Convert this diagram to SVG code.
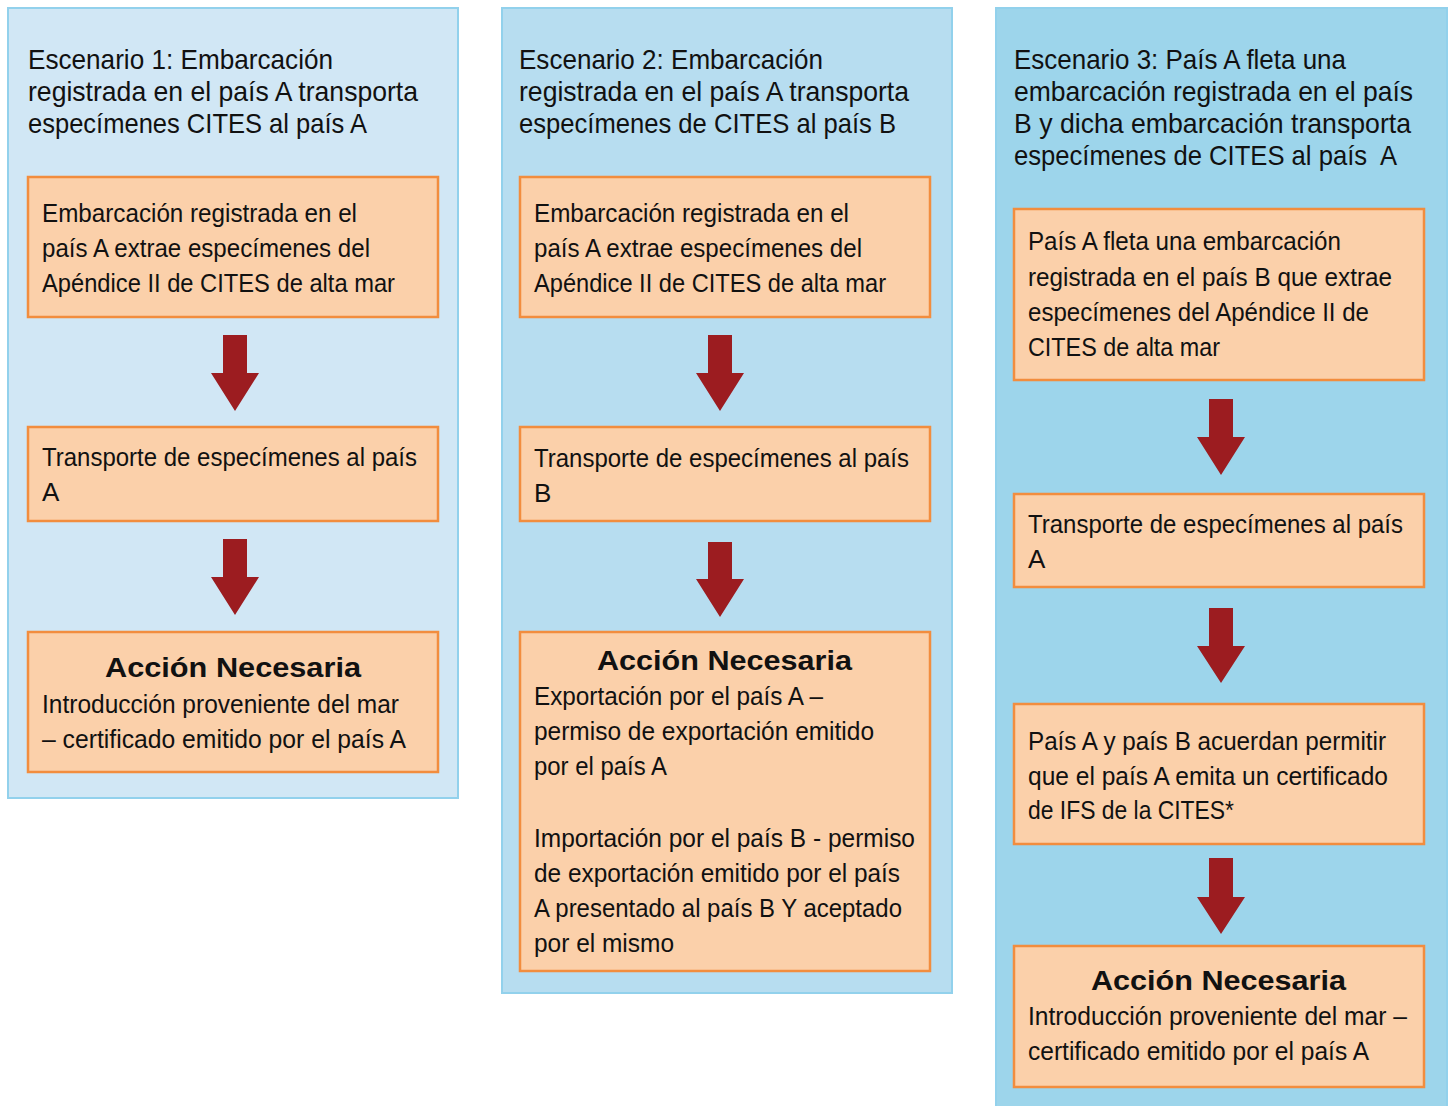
<svg xmlns="http://www.w3.org/2000/svg" width="1448" height="1106" viewBox="0 0 1448 1106">
<style>
.panel{stroke:#92d1ec;stroke-width:2}
.p1{fill:#d1e7f5}.p2{fill:#b7ddf0}.p3{fill:#9dd5eb}
.box{fill:#fbd0aa;stroke:#f28d3e;stroke-width:2.5}
.t{font-family:"Liberation Sans Narrow","Liberation Sans",Arial,sans-serif;fill:#111}
.title{font-size:28px}
.body{font-size:26px}
.hd{font-family:"Liberation Sans",Arial,sans-serif;font-weight:900;font-size:28px;fill:#111;text-anchor:middle}
.arrow{fill:#9c1c20}
</style>
<rect width="1448" height="1106" fill="#ffffff"/>

<g id="panel1">
<rect class="panel p1" x="8" y="8" width="450" height="790"/>
<text class="t title"><tspan x="28" y="69" textLength="305" lengthAdjust="spacingAndGlyphs">Escenario 1: Embarcación</tspan><tspan x="28" y="101" textLength="390" lengthAdjust="spacingAndGlyphs">registrada en el país A transporta</tspan><tspan x="28" y="133" textLength="339" lengthAdjust="spacingAndGlyphs">especímenes CITES al país A</tspan></text>
</g>
<g id="p1-box1">
<rect class="box" x="28" y="177" width="410" height="140"/>
<text class="t body"><tspan x="42" y="222" textLength="315" lengthAdjust="spacingAndGlyphs">Embarcación registrada en el</tspan><tspan x="42" y="257" textLength="328" lengthAdjust="spacingAndGlyphs">país A extrae especímenes del</tspan><tspan x="42" y="292" textLength="353" lengthAdjust="spacingAndGlyphs">Apéndice II de CITES de alta mar</tspan></text>
</g>
<g id="p1-box2">
<rect class="box" x="28" y="427" width="410" height="94"/>
<text class="t body"><tspan x="42" y="466" textLength="375" lengthAdjust="spacingAndGlyphs">Transporte de especímenes al país</tspan><tspan x="42" y="501">A</tspan></text>
</g>
<g id="p1-box3">
<rect class="box" x="28" y="632" width="410" height="140"/>
<text class="hd" x="233" y="677" textLength="256" lengthAdjust="spacingAndGlyphs">Acción Necesaria</text>
<text class="t body"><tspan x="42" y="713" textLength="357" lengthAdjust="spacingAndGlyphs">Introducción proveniente del mar</tspan><tspan x="42" y="748" textLength="364" lengthAdjust="spacingAndGlyphs">– certificado emitido por el país A</tspan></text>
</g>

<g id="panel2">
<rect class="panel p2" x="502" y="8" width="450" height="985"/>
<text class="t title"><tspan x="519" y="69" textLength="304" lengthAdjust="spacingAndGlyphs">Escenario 2: Embarcación</tspan><tspan x="519" y="101" textLength="390" lengthAdjust="spacingAndGlyphs">registrada en el país A transporta</tspan><tspan x="519" y="133" textLength="377" lengthAdjust="spacingAndGlyphs">especímenes de CITES al país B</tspan></text>
</g>
<g id="p2-box1">
<rect class="box" x="520" y="177" width="410" height="140"/>
<text class="t body"><tspan x="534" y="222" textLength="315" lengthAdjust="spacingAndGlyphs">Embarcación registrada en el</tspan><tspan x="534" y="257" textLength="328" lengthAdjust="spacingAndGlyphs">país A extrae especímenes del</tspan><tspan x="534" y="292" textLength="352" lengthAdjust="spacingAndGlyphs">Apéndice II de CITES de alta mar</tspan></text>
</g>
<g id="p2-box2">
<rect class="box" x="520" y="427" width="410" height="94"/>
<text class="t body"><tspan x="534" y="467" textLength="375" lengthAdjust="spacingAndGlyphs">Transporte de especímenes al país</tspan><tspan x="534" y="502">B</tspan></text>
</g>
<g id="p2-box3">
<rect class="box" x="520" y="632" width="410" height="339"/>
<text class="hd" x="724.5" y="670" textLength="255" lengthAdjust="spacingAndGlyphs">Acción Necesaria</text>
<text class="t body"><tspan x="534" y="705" textLength="289" lengthAdjust="spacingAndGlyphs">Exportación por el país A –</tspan><tspan x="534" y="740" textLength="340" lengthAdjust="spacingAndGlyphs">permiso de exportación emitido</tspan><tspan x="534" y="775" textLength="133" lengthAdjust="spacingAndGlyphs">por el país A</tspan><tspan x="534" y="847" textLength="381" lengthAdjust="spacingAndGlyphs">Importación por el país B - permiso</tspan><tspan x="534" y="882" textLength="366" lengthAdjust="spacingAndGlyphs">de exportación emitido por el país</tspan><tspan x="534" y="917" textLength="368" lengthAdjust="spacingAndGlyphs">A presentado al país B Y aceptado</tspan><tspan x="534" y="952" textLength="140" lengthAdjust="spacingAndGlyphs">por el mismo</tspan></text>
</g>

<g id="panel3">
<rect class="panel p3" x="996" y="8" width="451" height="1110"/>
<text class="t title"><tspan x="1014" y="69" textLength="332" lengthAdjust="spacingAndGlyphs">Escenario 3: País A fleta una</tspan><tspan x="1014" y="101" textLength="399" lengthAdjust="spacingAndGlyphs">embarcación registrada en el país</tspan><tspan x="1014" y="133" textLength="397" lengthAdjust="spacingAndGlyphs">B y dicha embarcación transporta</tspan><tspan x="1014" y="165" textLength="383" lengthAdjust="spacingAndGlyphs" xml:space="preserve">especímenes de CITES al país  A</tspan></text>
</g>
<g id="p3-box1">
<rect class="box" x="1014" y="209" width="410" height="171"/>
<text class="t body"><tspan x="1028" y="250" textLength="313" lengthAdjust="spacingAndGlyphs">País A fleta una embarcación</tspan><tspan x="1028" y="286" textLength="364" lengthAdjust="spacingAndGlyphs">registrada en el país B que extrae</tspan><tspan x="1028" y="321" textLength="341" lengthAdjust="spacingAndGlyphs">especímenes del Apéndice II de</tspan><tspan x="1028" y="356" textLength="192" lengthAdjust="spacingAndGlyphs">CITES de alta mar</tspan></text>
</g>
<g id="p3-box2">
<rect class="box" x="1014" y="494" width="410" height="93"/>
<text class="t body"><tspan x="1028" y="533" textLength="375" lengthAdjust="spacingAndGlyphs">Transporte de especímenes al país</tspan><tspan x="1028" y="568">A</tspan></text>
</g>
<g id="p3-box3">
<rect class="box" x="1014" y="704" width="410" height="140"/>
<text class="t body"><tspan x="1028" y="750" textLength="358" lengthAdjust="spacingAndGlyphs">País A y país B acuerdan permitir</tspan><tspan x="1028" y="785" textLength="360" lengthAdjust="spacingAndGlyphs">que el país A emita un certificado</tspan><tspan x="1028" y="819" textLength="206" lengthAdjust="spacingAndGlyphs">de IFS de la CITES*</tspan></text>
</g>
<g id="p3-box4">
<rect class="box" x="1014" y="946" width="410" height="141"/>
<text class="hd" x="1218.5" y="990" textLength="255" lengthAdjust="spacingAndGlyphs">Acción Necesaria</text>
<text class="t body"><tspan x="1028" y="1025" textLength="379" lengthAdjust="spacingAndGlyphs">Introducción proveniente del mar –</tspan><tspan x="1028" y="1060" textLength="341" lengthAdjust="spacingAndGlyphs">certificado emitido por el país A</tspan></text>
</g>

<g id="connectors">
<polygon class="arrow" points="223,335 247,335 247,373 259,373 235,411 211,373 223,373"/>
<polygon class="arrow" points="223,539 247,539 247,577 259,577 235,615 211,577 223,577"/>
<polygon class="arrow" points="708,335 732,335 732,373 744,373 720,411 696,373 708,373"/>
<polygon class="arrow" points="708,542 732,542 732,579 744,579 720,617 696,579 708,579"/>
<polygon class="arrow" points="1209,399 1233,399 1233,437 1245,437 1221,475 1197,437 1209,437"/>
<polygon class="arrow" points="1209,608 1233,608 1233,646 1245,646 1221,683 1197,646 1209,646"/>
<polygon class="arrow" points="1209,858 1233,858 1233,897 1245,897 1221,934 1197,897 1209,897"/>
</g>
</svg>
